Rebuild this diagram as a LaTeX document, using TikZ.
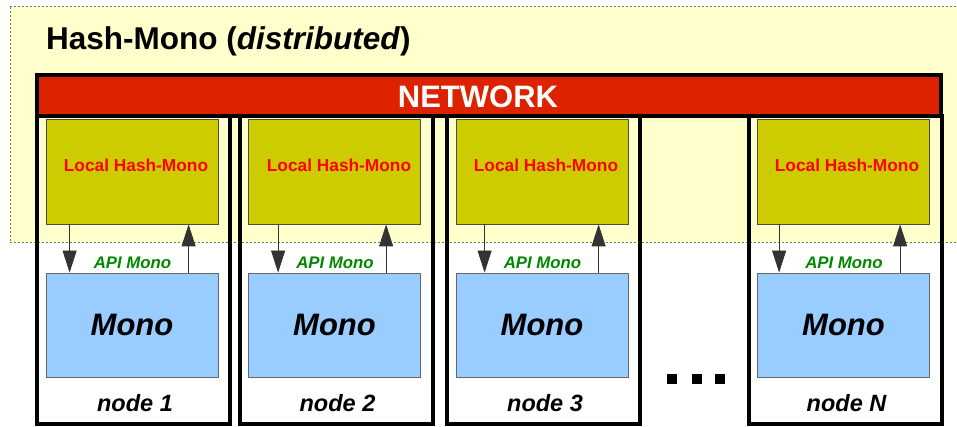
\documentclass[tikz,border=0pt]{standalone}
\usepackage{fontspec}
\setmainfont{Liberation Sans}
\usetikzlibrary{arrows.meta}

\definecolor{bgyellow}{HTML}{FFFFCC}
\definecolor{netred}{HTML}{DD2200}
\definecolor{localolive}{HTML}{CCCC00}
\definecolor{monoblue}{HTML}{99CCFF}
\definecolor{apigreen}{HTML}{008800}

\tikzset{
	nodebox/.style={draw=black, line width=4pt, minimum width=193pt, minimum height=308pt, inner sep=0pt},
	localbox/.style={draw=black!70, line width=0.8pt, fill=localolive, minimum width=172pt, minimum height=105pt, inner sep=0pt},
	localtext/.style={inner sep=0pt, text=red, font=\fontsize{17.3}{20}\selectfont\bfseries},
	monobox/.style={draw=black!60, line width=0.8pt, fill=monoblue, minimum width=172pt, minimum height=104pt, inner sep=0pt, font=\fontsize{31}{36}\selectfont\bfseries\itshape},
	apitext/.style={inner sep=0pt, text=apigreen, font=\fontsize{16.8}{18}\selectfont\bfseries\itshape},
	nodetext/.style={inner sep=0pt, font=\fontsize{23.5}{26}\selectfont\bfseries\itshape},
	apiarrow/.style={draw=black!80, line width=0.8pt, -{Triangle[width=14pt,length=22pt]}},
	dotsq/.style={fill=black, minimum size=10pt, inner sep=0pt},
}

\begin{document}
\begin{tikzpicture}[x=1pt, y=-1pt]
		%%%%% START %%%%%
		\useasboundingbox (0, 0) rectangle (957, 427);
		
		\draw[fill=bgyellow, draw=black!55, line width=1pt, dash pattern=on 2pt off 2pt] (10, 7) rectangle (965, 243);
		\node[anchor=west, inner sep=0pt, font=\fontsize{31.5}{36}\selectfont\bfseries] (title) at (46, 41) {Hash-Mono (\textit{distributed})};
		
		\node[draw=black, line width=4pt, fill=netred, minimum width=904pt, minimum height=41pt, inner sep=0pt] (network) at (489, 95.5) {};
		\node[inner sep=0pt, text=white, font=\fontsize{31}{36}\selectfont\bfseries] (nettext) at (478, 96.5) {NETWORK};
		
		% node 1
		\node[nodebox] (box1) at (133.5, 270) {};
		\node[localbox] (lh1) at (132, 171.5) {};
		\node[localtext] (lt1) at (136, 165.5) {Local Hash-Mono};
		\node[monobox] (mono1) at (132, 325) {Mono};
		\node[apitext] (api1) at (132.5, 262.5) {API Mono};
		\draw[apiarrow] ([xshift=24pt]lh1.south west) -- ([xshift=24pt]mono1.north west);
		\draw[apiarrow] ([xshift=143pt]mono1.north west) -- ([xshift=143pt]lh1.south west);
		\node[nodetext] (lbl1) at (135, 403) {node 1};
		
		% node 2
		\node[nodebox] (box2) at (336, 270) {};
		\node[localbox] (lh2) at (334.5, 171.5) {};
		\node[localtext] (lt2) at (339, 165.5) {Local Hash-Mono};
		\node[monobox] (mono2) at (334.5, 325) {Mono};
		\node[apitext] (api2) at (335, 262.5) {API Mono};
		\draw[apiarrow] ([xshift=30pt]lh2.south west) -- ([xshift=30pt]mono2.north west);
		\draw[apiarrow] ([xshift=138pt]mono2.north west) -- ([xshift=138pt]lh2.south west);
		\node[nodetext] (lbl2) at (337.5, 403) {node 2};
		
		% node 3
		\node[nodebox] (box3) at (543.5, 270) {};
		\node[localbox] (lh3) at (542, 171.5) {};
		\node[localtext] (lt3) at (546, 165.5) {Local Hash-Mono};
		\node[monobox] (mono3) at (542, 325) {Mono};
		\node[apitext] (api3) at (542.5, 262.5) {API Mono};
		\draw[apiarrow] ([xshift=29pt]lh3.south west) -- ([xshift=29pt]mono3.north west);
		\draw[apiarrow] ([xshift=143pt]mono3.north west) -- ([xshift=143pt]lh3.south west);
		\node[nodetext] (lbl3) at (545, 403) {node 3};
		
		% dots
		\node[dotsq] (dot1) at (672, 379) {};
		\node[dotsq] (dot2) at (697, 379) {};
		\node[dotsq] (dot3) at (720, 379) {};
		
		% node N
		\node[nodebox] (boxN) at (845, 270) {};
		\node[localbox] (lhN) at (843.5, 171.5) {};
		\node[localtext] (ltN) at (847, 165.5) {Local Hash-Mono};
		\node[monobox] (monoN) at (843.5, 325) {Mono};
		\node[apitext] (apiN) at (844, 262.5) {API Mono};
		\draw[apiarrow] ([xshift=22pt]lhN.south west) -- ([xshift=22pt]monoN.north west);
		\draw[apiarrow] ([xshift=143pt]monoN.north west) -- ([xshift=143pt]lhN.south west);
		\node[nodetext] (lblN) at (846.5, 403) {node N};
		
		%%%%% END %%%%%
	\end{tikzpicture}
\end{document}
